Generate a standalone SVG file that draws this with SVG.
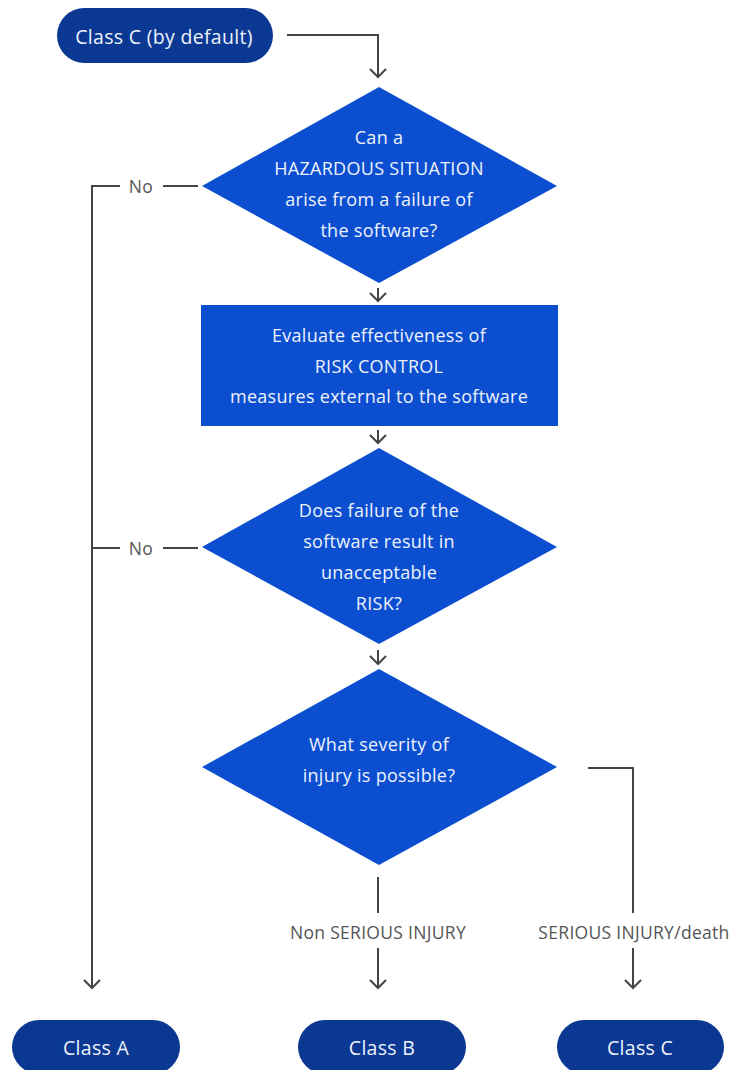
<svg xmlns="http://www.w3.org/2000/svg" width="734" height="1070" viewBox="0 0 734 1070">
<defs>
<style>
.pill{fill:#0a3893}
.shape{fill:#0b4fd0}
.wt{fill:#eef2fb;font-family:"Open Sans","Liberation Sans",sans-serif;font-size:18px;letter-spacing:0.3px;text-anchor:middle;dominant-baseline:central}
.pt{font-size:19.5px}
.lbl{fill:#555;font-family:"Open Sans","Liberation Sans",sans-serif;font-size:17.5px;letter-spacing:0.3px;text-anchor:middle;dominant-baseline:central}
.ln{fill:none;stroke:#444;stroke-width:2}
</style>
<marker id="arr" viewBox="0 0 20 20" refX="17" refY="10" markerWidth="20" markerHeight="20" markerUnits="userSpaceOnUse" orient="auto-start-reverse">
<path d="M9 2 L17 10 L9 18" fill="none" stroke="#444" stroke-width="2"/>
</marker>
</defs>
<rect width="734" height="1070" fill="#fff"/>
<g id="connectors">
<polyline class="ln" points="287,35 378,35 378,77" marker-end="url(#arr)"/>
<line class="ln" x1="378" y1="288" x2="378" y2="301" marker-end="url(#arr)"/>
<line class="ln" x1="378" y1="430" x2="378" y2="443" marker-end="url(#arr)"/>
<line class="ln" x1="378" y1="650" x2="378" y2="664" marker-end="url(#arr)"/>
<line class="ln" x1="163" y1="186" x2="198" y2="186"/>
<polyline class="ln" points="120,186 92,186 92,988" marker-end="url(#arr)"/>
<line class="ln" x1="163" y1="548" x2="198" y2="548"/>
<line class="ln" x1="92" y1="548" x2="120" y2="548"/>
<line class="ln" x1="378" y1="877" x2="378" y2="913"/>
<line class="ln" x1="378" y1="948" x2="378" y2="988" marker-end="url(#arr)"/>
<polyline class="ln" points="588,768 633,768 633,913"/>
<line class="ln" x1="633" y1="948" x2="633" y2="988" marker-end="url(#arr)"/>
<text class="lbl" x="141" y="186">No</text>
<text class="lbl" x="141" y="548">No</text>
<text class="lbl" x="378" y="932">Non SERIOUS INJURY</text>
<text class="lbl" x="634" y="932">SERIOUS INJURY/death</text>
</g>
<g id="start">
<rect class="pill" x="57" y="8" width="216" height="55" rx="27.5"/>
<text class="wt pt" x="164" y="36">Class C (by default)</text>
</g>
<g id="q1">
<polygon class="shape" points="379,87 557,186 379,283 202,186"/>
<text class="wt" x="379" y="137">Can a</text>
<text class="wt" x="379" y="168">HAZARDOUS SITUATION</text>
<text class="wt" x="379" y="199">arise from a failure of</text>
<text class="wt" x="379" y="230">the software?</text>
</g>
<g id="evaluate">
<rect class="shape" x="201" y="305" width="357" height="121"/>
<text class="wt" x="379" y="335">Evaluate effectiveness of</text>
<text class="wt" x="379" y="366">RISK CONTROL</text>
<text class="wt" x="379" y="396">measures external to the software</text>
</g>
<g id="q2">
<polygon class="shape" points="379,448 557,547 379,644 202,547"/>
<text class="wt" x="379" y="510">Does failure of the</text>
<text class="wt" x="379" y="541">software result in</text>
<text class="wt" x="379" y="572">unacceptable</text>
<text class="wt" x="379" y="603">RISK?</text>
</g>
<g id="q3">
<polygon class="shape" points="379,669 557,767 379,865 202,767"/>
<text class="wt" x="379" y="744">What severity of</text>
<text class="wt" x="379" y="775">injury is possible?</text>
</g>
<g id="classA">
<rect class="pill" x="12" y="1020" width="168" height="54" rx="27"/>
<text class="wt pt" x="96" y="1047">Class A</text>
</g>
<g id="classB">
<rect class="pill" x="298" y="1020" width="168" height="54" rx="27"/>
<text class="wt pt" x="382" y="1047">Class B</text>
</g>
<g id="classC">
<rect class="pill" x="557" y="1020" width="167" height="54" rx="27"/>
<text class="wt pt" x="640" y="1047">Class C</text>
</g>
</svg>
